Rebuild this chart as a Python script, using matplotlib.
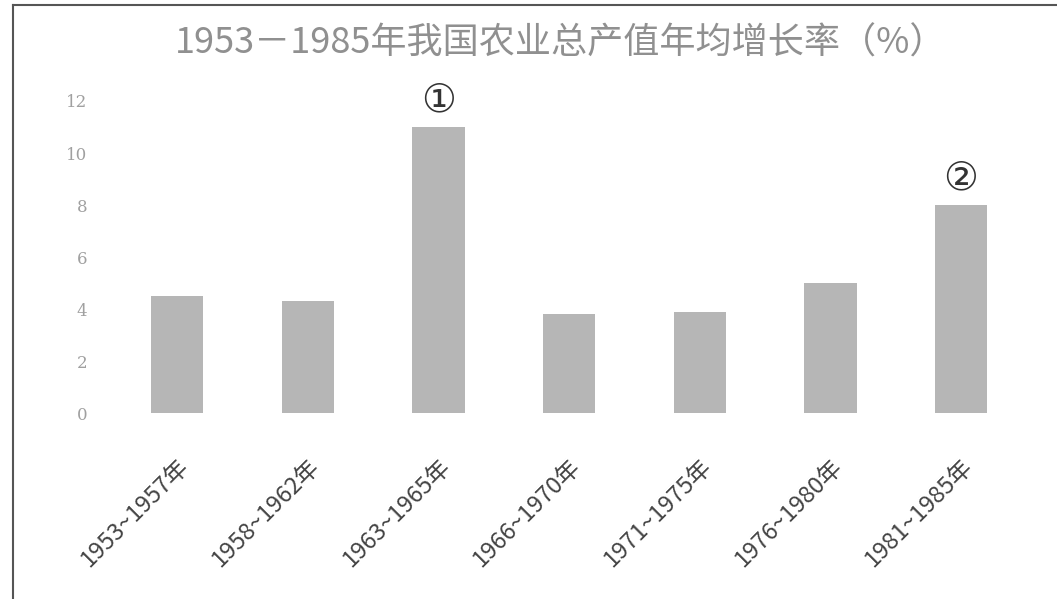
import matplotlib.pyplot as plt
from matplotlib.lines import Line2D

plt.rcParams['font.family'] = ['Noto Sans CJK SC', 'DejaVu Sans']

# data
periods = ['1953~1957年', '1958~1962年', '1963~1965年', '1966~1970年',
           '1971~1975年', '1976~1980年', '1981~1985年']
growth = [4.5, 4.3, 11.0, 3.8, 3.9, 5.0, 8.0]
yticks = [0, 2, 4, 6, 8, 10, 12]
marks = {2: '①', 6: '②'}

fig = plt.figure(figsize=(10.57, 5.99), dpi=100)
ax = fig.add_axes([0.106, 0.3105, 0.865, 0.586])

x = range(len(periods))
ax.bar(x, growth, width=0.4, color='#b6b6b6', edgecolor='none')

for i, s in marks.items():
    ax.text(i, growth[i] + 0.3, s, ha='center', va='bottom', fontsize=28,
            color='#333333', family=['DejaVu Sans'])

ax.set_xlim(-0.5, len(periods) - 0.5)
ax.set_ylim(0, 13.5)
ax.set_yticks(yticks)
ax.set_yticklabels([str(v) for v in yticks], color='#a0a0a0', fontsize=12,
                   family=['DejaVu Serif'])
ax.tick_params(axis='y', length=0, pad=18)
ax.tick_params(axis='x', length=0, pad=30)
ax.set_xticks(list(x))
ax.set_xticklabels(periods, rotation=45, ha='right', rotation_mode='anchor',
                   fontsize=17, color='#444444')
for sp in ax.spines.values():
    sp.set_visible(False)

fig.text(0.53, 0.928, '1953－1985年我国农业总产值年均增长率（%）', ha='center',
         va='center', fontsize=26, color='#909090')

# frame of the scanned figure
fig.add_artist(Line2D([0.012, 0.012], [0, 0.992], color='#555555', lw=1.5))
fig.add_artist(Line2D([0.012, 1], [0.992, 0.992], color='#555555', lw=1.5))

fig.savefig('out.png', dpi=100)
